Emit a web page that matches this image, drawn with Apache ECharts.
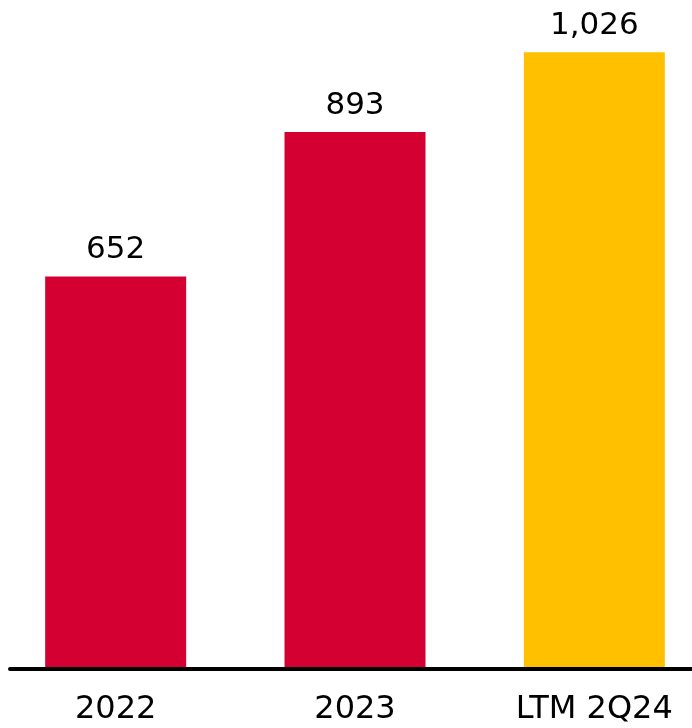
<!DOCTYPE html>
<html>
<head>
<meta charset="utf-8">
<style>html,body{margin:0;padding:0;background:#fff;}#c{width:692px;height:728px;}</style>
<script src="https://cdn.jsdelivr.net/npm/echarts@6/dist/echarts.min.js"></script>
</head>
<body>
<div id="c"></div>
<script>
var categories = ['2022', '2023', 'LTM 2Q24'];
var values = [652, 893, 1026];

var RED = '#D50032', YELLOW = '#FFC000';
var FONT = 'DejaVu Sans';

var chart = echarts.init(document.getElementById('c'));
chart.setOption({
  animation: false,
  grid: [
    { left: -4, width: 718, top: 8, bottom: 61, outerBoundsMode: 'none', containLabel: false },
    { left: 10, right: 0, top: 650, bottom: 59, outerBoundsMode: 'none', containLabel: false }
  ],
  xAxis: [
    { type: 'category', gridIndex: 0, data: categories,
      axisLine: { show: false }, axisTick: { show: false },
      axisLabel: { color: '#000', fontFamily: FONT, fontSize: 32, margin: 27 } },
    { type: 'value', gridIndex: 1, min: 0, max: 1,
      axisLine: { show: true, lineStyle: { color: '#000', width: 4 } },
      axisTick: { show: false }, axisLabel: { show: false }, splitLine: { show: false } }
  ],
  yAxis: [
    { type: 'value', gridIndex: 0, min: 0, max: 1100, show: false, splitLine: { show: false } },
    { type: 'value', gridIndex: 1, show: false, splitLine: { show: false } }
  ],
  series: [{
    type: 'bar', xAxisIndex: 0, yAxisIndex: 0, barWidth: 141,
    data: values.map(function (v, i) {
      return { value: v, itemStyle: { color: i === values.length - 1 ? YELLOW : RED } };
    }),
    label: { show: true, position: 'top', distance: 11, color: '#000',
      fontFamily: FONT, fontSize: 31,
      formatter: function (p) { return p.value.toLocaleString('en-US'); } }
  }]
});
</script>
</body>
</html>
